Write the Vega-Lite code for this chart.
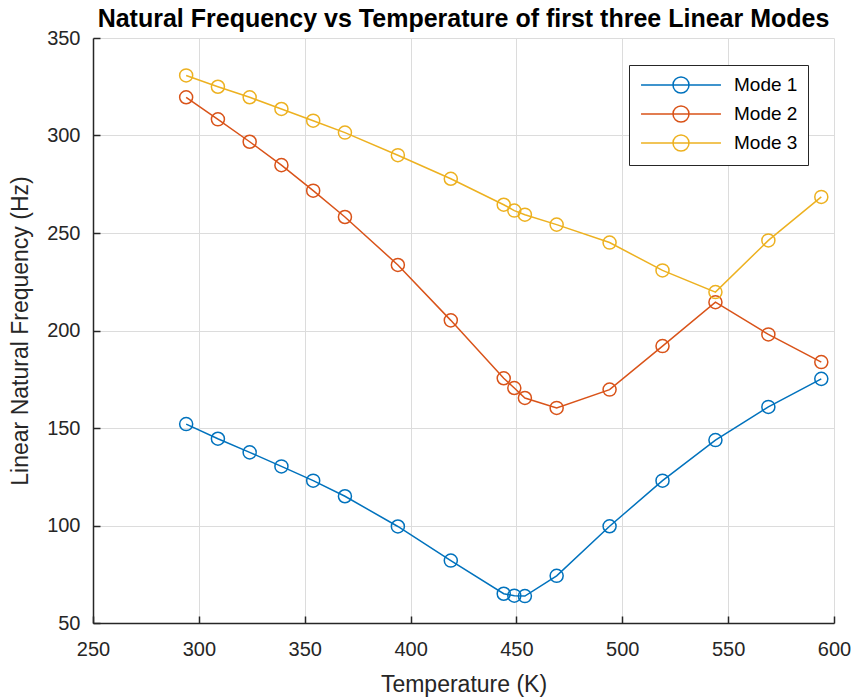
{
  "$schema": "https://vega.github.io/schema/vega-lite/v6.json",
  "width": 741,
  "height": 585,
  "autosize": {"type": "none"},
  "padding": {"left": 93, "top": 38, "right": 18, "bottom": 77},
  "background": "white",
  "title": {
    "text": "Natural Frequency vs Temperature of first three Linear Modes",
    "font": "Liberation Sans",
    "fontSize": 25,
    "fontWeight": "bold",
    "color": "#000000",
    "anchor": "middle",
    "offset": -4
  },
  "data": {
    "values": [
      {"T": 294, "f": 152.0, "mode": "Mode 1"},
      {"T": 309, "f": 144.5, "mode": "Mode 1"},
      {"T": 324, "f": 137.5, "mode": "Mode 1"},
      {"T": 339, "f": 130.3, "mode": "Mode 1"},
      {"T": 354, "f": 123.0, "mode": "Mode 1"},
      {"T": 369, "f": 115.0, "mode": "Mode 1"},
      {"T": 394, "f": 99.5, "mode": "Mode 1"},
      {"T": 419, "f": 82.0, "mode": "Mode 1"},
      {"T": 444, "f": 65.0, "mode": "Mode 1"},
      {"T": 449, "f": 64.0, "mode": "Mode 1"},
      {"T": 454, "f": 63.8, "mode": "Mode 1"},
      {"T": 469, "f": 74.2, "mode": "Mode 1"},
      {"T": 494, "f": 99.6, "mode": "Mode 1"},
      {"T": 519, "f": 123.0, "mode": "Mode 1"},
      {"T": 544, "f": 143.8, "mode": "Mode 1"},
      {"T": 569, "f": 160.8, "mode": "Mode 1"},
      {"T": 594, "f": 175.2, "mode": "Mode 1"},
      {"T": 294, "f": 319.6, "mode": "Mode 2"},
      {"T": 309, "f": 308.3, "mode": "Mode 2"},
      {"T": 324, "f": 296.8, "mode": "Mode 2"},
      {"T": 339, "f": 284.8, "mode": "Mode 2"},
      {"T": 354, "f": 271.7, "mode": "Mode 2"},
      {"T": 369, "f": 258.2, "mode": "Mode 2"},
      {"T": 394, "f": 233.6, "mode": "Mode 2"},
      {"T": 419, "f": 205.2, "mode": "Mode 2"},
      {"T": 444, "f": 175.5, "mode": "Mode 2"},
      {"T": 449, "f": 170.5, "mode": "Mode 2"},
      {"T": 454, "f": 165.4, "mode": "Mode 2"},
      {"T": 469, "f": 160.3, "mode": "Mode 2"},
      {"T": 494, "f": 169.7, "mode": "Mode 2"},
      {"T": 519, "f": 192.0, "mode": "Mode 2"},
      {"T": 544, "f": 214.5, "mode": "Mode 2"},
      {"T": 569, "f": 198.0, "mode": "Mode 2"},
      {"T": 594, "f": 183.8, "mode": "Mode 2"},
      {"T": 294, "f": 330.8, "mode": "Mode 3"},
      {"T": 309, "f": 325.0, "mode": "Mode 3"},
      {"T": 324, "f": 319.6, "mode": "Mode 3"},
      {"T": 339, "f": 313.6, "mode": "Mode 3"},
      {"T": 354, "f": 307.6, "mode": "Mode 3"},
      {"T": 369, "f": 301.5, "mode": "Mode 3"},
      {"T": 394, "f": 289.9, "mode": "Mode 3"},
      {"T": 419, "f": 277.8, "mode": "Mode 3"},
      {"T": 444, "f": 264.5, "mode": "Mode 3"},
      {"T": 449, "f": 261.5, "mode": "Mode 3"},
      {"T": 454, "f": 259.4, "mode": "Mode 3"},
      {"T": 469, "f": 254.3, "mode": "Mode 3"},
      {"T": 494, "f": 245.1, "mode": "Mode 3"},
      {"T": 519, "f": 230.8, "mode": "Mode 3"},
      {"T": 544, "f": 219.7, "mode": "Mode 3"},
      {"T": 569, "f": 246.2, "mode": "Mode 3"},
      {"T": 594, "f": 268.5, "mode": "Mode 3"}
    ]
  },
  "encoding": {
    "color": {
      "field": "mode",
      "type": "nominal",
      "scale": {"domain": ["Mode 1", "Mode 2", "Mode 3"], "range": ["#0072BD", "#D95319", "#EDB120"]},
      "legend": {
        "title": null,
        "orient": "none",
        "legendX": 536,
        "legendY": 27,
        "direction": "vertical",
        "strokeColor": "#262626",
        "fillColor": "white",
        "padding": 10,
        "symbolType": "M-4.44,0H4.44M0.89,0A0.89,0.89 0 1 1 -0.89,0A0.89,0.89 0 1 1 0.89,0",
        "symbolSize": 324,
        "symbolStrokeWidth": 1.5,
        "symbolFillColor": "transparent",
        "symbolOffset": 32,
        "labelOffset": 43,
        "labelFont": "Liberation Sans",
        "labelFontSize": 19,
        "labelColor": "#000000",
        "rowPadding": 5
      }
    }
  },
  "layer": [
    {
      "mark": {"type": "line", "strokeWidth": 1.5},
      "encoding": {
        "x": {
          "field": "T",
          "type": "quantitative",
          "title": "Temperature (K)",
          "scale": {"domain": [250, 600], "nice": false, "zero": false},
          "axis": {"values": [250, 300, 350, 400, 450, 500, 550, 600], "orient": "bottom", "labelPadding": 16, "titlePadding": 14, "labelFlush": false, "tickSize": 0}
        },
        "y": {
          "field": "f",
          "type": "quantitative",
          "title": "Linear Natural Frequency (Hz)",
          "scale": {"domain": [50, 350], "nice": false, "zero": false},
          "axis": {"values": [50, 100, 150, 200, 250, 300, 350], "orient": "left", "labelPadding": 13, "titlePadding": 14, "labelFlush": false, "tickSize": 0}
        }
      }
    },
    {
      "mark": {"type": "point", "shape": "circle", "filled": false, "size": 170, "strokeWidth": 1.5, "opacity": 1},
      "encoding": {
        "x": {
          "field": "T",
          "type": "quantitative",
          "scale": {"domain": [250, 600], "nice": false, "zero": false},
          "axis": {"values": [250, 300, 350, 400, 450, 500, 550, 600], "orient": "bottom", "offset": -7, "tickSize": 7, "domain": false, "labels": false, "grid": false, "title": null}
        },
        "y": {
          "field": "f",
          "type": "quantitative",
          "scale": {"domain": [50, 350], "nice": false, "zero": false},
          "axis": {"values": [50, 100, 150, 200, 250, 300, 350], "orient": "left", "offset": -7, "tickSize": 7, "domain": false, "labels": false, "grid": false, "title": null}
        }
      }
    }
  ],
  "resolve": {"axis": {"x": "independent", "y": "independent"}},
  "config": {
    "view": {"stroke": null},
    "axis": {
      "grid": true,
      "gridColor": "#dcdcdc",
      "gridWidth": 1,
      "domainColor": "#262626",
      "domainWidth": 1.5,
      "tickColor": "#262626",
      "tickWidth": 1.5,
      "labelFont": "Liberation Sans",
      "labelFontSize": 20,
      "labelColor": "#262626",
      "titleFont": "Liberation Sans",
      "titleFontSize": 23,
      "titleFontWeight": "normal",
      "titleColor": "#262626"
    }
  }
}
